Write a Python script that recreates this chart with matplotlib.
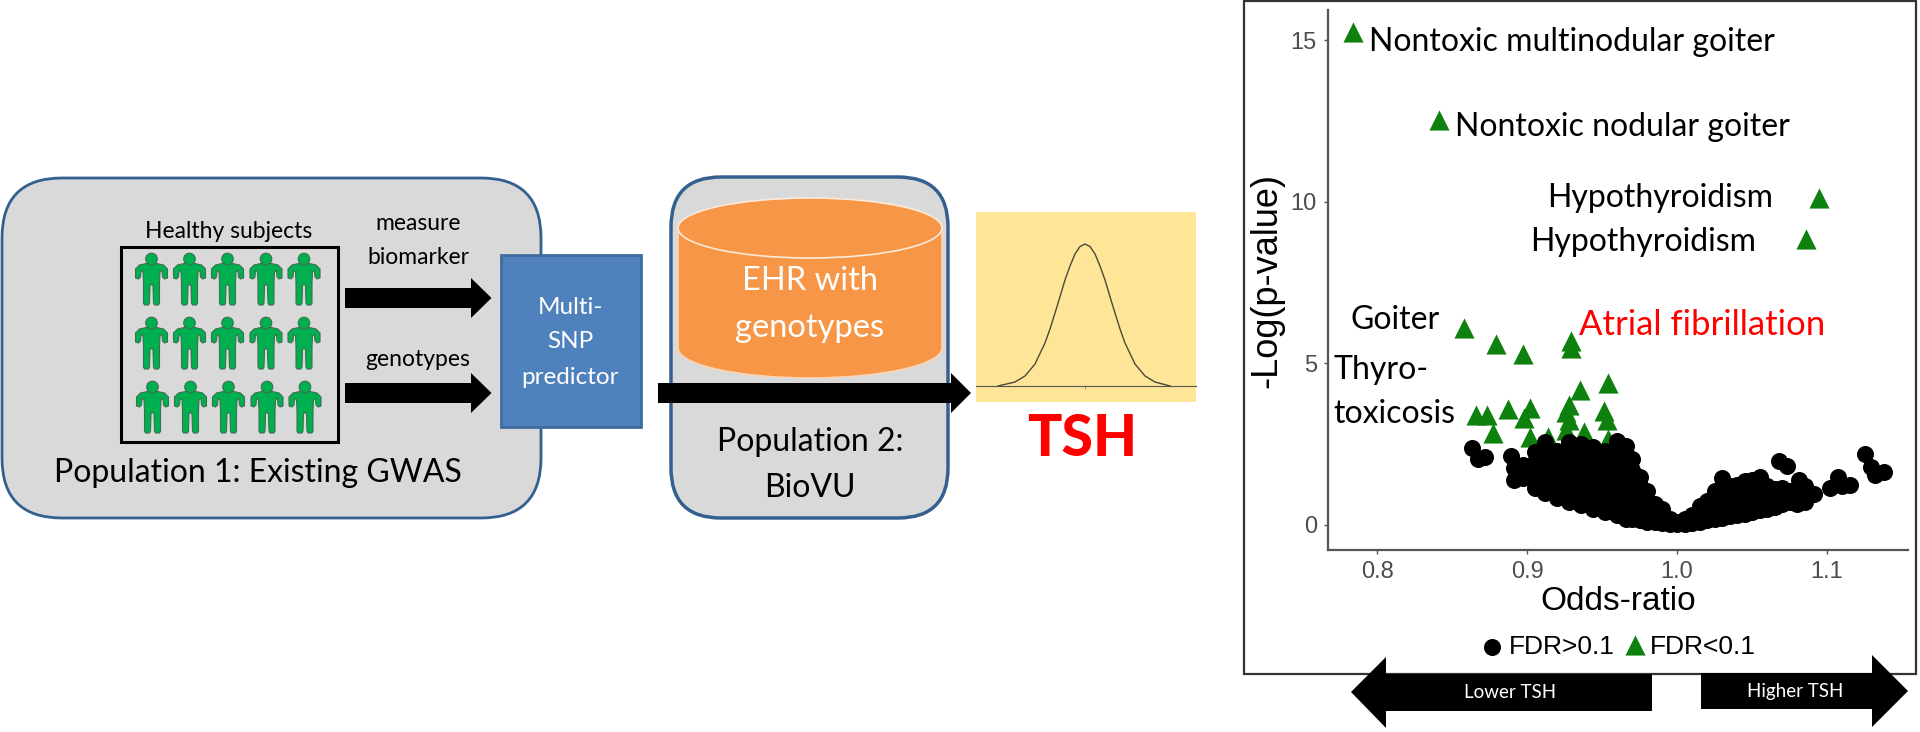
import matplotlib
matplotlib.use("Agg")
import matplotlib.pyplot as plt
from matplotlib.patches import Polygon, Circle, Rectangle, Ellipse, FancyBboxPatch

W, H = 1920, 732
TXT = "Lato"
AX = "Liberation Sans"

# volcano plot, values
black_or = [.863, .867, .872, .889, .891, .891,
            .897, .897,
            .905, .905, .905, .905,
            .912, .912, .912, .912, .912,
            .920, .920, .920, .920, .920,
            .928, .928, .928, .928, .928, .928,
            .936, .936, .936, .936, .936, .936,
            .944, .944, .944, .944, .944, .944,
            .952, .952, .952, .952, .952, .952,
            .960, .960, .960, .960, .960, .960, .960,
            .966, .966, .966, .966, .966, .966, .966,
            .970, .970, .970, .970, .970, .970,
            .975, .975, .975, .975, .975,
            .980, .980, .980, .980,
            .985, .985, .985,
            .990, .990, .990,
            .995, .995,
            1.0, 1.0,
            1.005, 1.005,
            1.01, 1.01,
            1.015, 1.015, 1.015,
            1.02, 1.02, 1.02,
            1.025, 1.025, 1.025, 1.025,
            1.03, 1.03, 1.03, 1.03,
            1.035, 1.035, 1.035, 1.035,
            1.04, 1.04, 1.04, 1.04,
            1.045, 1.045, 1.045, 1.045,
            1.05, 1.05, 1.05, 1.05,
            1.055, 1.055, 1.055, 1.055,
            1.06, 1.06, 1.06,
            1.065, 1.065, 1.065,
            1.07, 1.07, 1.07, 1.068, 1.073,
            1.075, 1.075,
            1.08, 1.08, 1.0815,
            1.085, 1.085, 1.085,
            1.091,
            1.102, 1.107, 1.11, 1.115,
            1.125, 1.129, 1.132, 1.138]
black_logp = [2.37, 2.03, 2.09, 2.14, 1.75, 1.39,
              1.45, 1.85,
              1.15, 1.55, 1.95, 2.25,
              .98, 1.35, 1.8, 2.2, 2.58,
              .85, 1.2, 1.55, 1.95, 2.3,
              .72, 1.1, 1.5, 1.9, 2.3, 2.58,
              .62, 1.0, 1.4, 1.8, 2.2, 2.5,
              .5, .9, 1.3, 1.7, 2.1, 2.4,
              .4, .8, 1.2, 1.6, 2.0, 2.3,
              .3, .7, 1.1, 1.5, 1.9, 2.3, 2.6,
              .2, .6, 1.0, 1.4, 1.8, 2.2, 2.45,
              .18, .5, .9, 1.3, 1.7, 2.05,
              .15, .5, .85, 1.2, 1.5,
              .1, .4, .7, 1.05,
              .08, .35, .65,
              .05, .3, .5,
              .03, .2,
              .02, .1,
              .03, .2,
              .06, .3,
              .1, .4, .6,
              .15, .45, .75,
              .18, .5, .85, 1.05,
              .22, .6, .95, 1.44,
              .27, .65, 1.0, 1.2,
              .3, .7, 1.05, 1.25,
              .35, .7, 1.1, 1.35,
              .4, .75, 1.1, 1.4,
              .45, .8, 1.1, 1.5,
              .5, .85, 1.2,
              .55, .9, 1.1,
              .65, 1.0, 1.15, 1.98, 1.82,
              .7, 1.05,
              .65, .95, 1.39,
              .7, 1.0, 1.2,
              .95,
              1.13, 1.5, 1.2, 1.24,
              2.2, 1.8, 1.55, 1.63]

green_or = [.784, .841, 1.0945, 1.086, .858, .879, .897, .929, .9295,
            .954, .935, .928, .926, .951, .953, .866, .873, .887, .902, .898,
            .877, .902, .928, .926, .938, .914, .954, .927]
green_logp = [15.26, 12.54, 10.12, 8.85, 6.09, 5.6, 5.29, 5.7, 5.47,
              4.39, 4.18, 3.71, 3.5, 3.53, 3.25, 3.4, 3.4, 3.59, 3.62, 3.31,
              2.85, 2.72, 3.25, 2.94, 2.88, 2.72, 2.66, 2.63]

x_ticks = [0.8, 0.9, 1.0, 1.1]
x_tick_labels = ["0.8", "0.9", "1.0", "1.1"]
y_ticks = [0, 5, 10, 15]

# TSH curve: offset from the centre and height above the baseline
tsh_x = [-87, -70, -60, -50, -40, -35, -30, -26, -20, -15, -10, -5, 0,
         5, 10, 15, 20, 26, 30, 35, 40, 50, 60, 70, 85]
tsh_y = [0, 4, 10, 22, 43, 57, 73, 86, 106, 120, 132, 139.5, 142,
         139.5, 132, 120, 106, 86, 73, 57, 43, 22, 10, 4, 0]


def px_axes(fig, left, top, right, bottom):
    return fig.add_axes([left / W, 1 - bottom / H, (right - left) / W, (bottom - top) / H])


def arrow_right(ax, x0, x1, xh, yc, shaft, head):
    ax.add_patch(Polygon([(x0, yc - shaft), (xh, yc - shaft), (xh, yc - head), (x1, yc),
                          (xh, yc + head), (xh, yc + shaft), (x0, yc + shaft)],
                         fc="black", ec="none", zorder=5))


def person(ax, cx, top):
    half = [(0, 31), (1.5, 33), (2, 50), (3, 52), (7, 52), (8, 50), (8, 30), (8.5, 19),
            (10.5, 17), (11, 24), (13, 26), (16, 25), (16, 16), (12, 12), (3, 10)]
    left = [(-a, b) for a, b in half[::-1]]
    pts = [(cx + a, top + b) for a, b in half + left]
    ax.add_patch(Polygon(pts, fc="#00b050", ec="#3f6f4f", lw=0.8, zorder=4))
    ax.add_patch(Circle((cx, top + 6), 5.8, fc="#00b050", ec="#3f6f4f", lw=0.8, zorder=4))


def label(ax, x, y, s, size, color="black", ha="left", **kw):
    ax.text(x, y, s, fontsize=size, color=color, ha=ha, va="center", family=TXT, zorder=6, **kw)


fig = plt.figure(figsize=(W / 100, H / 100), dpi=100)
bg = fig.add_axes([0, 0, 1, 1])
bg.set_xlim(0, W)
bg.set_ylim(H, 0)
bg.axis("off")

# population 1
bg.add_patch(FancyBboxPatch((62, 238), 419, 220, boxstyle="round,pad=60,rounding_size=60",
                            fc="#d9d9d9", ec="#34608f", lw=2))
bg.add_patch(Rectangle((121, 247), 217, 195, fc="none", ec="black", lw=2.2, zorder=3))
for top, shift in [(253, 0), (317, 0), (381, 1)]:
    for cx in [151.5, 189.5, 227.5, 266, 304]:
        person(bg, cx + shift, top)
label(bg, 229, 232, "Healthy subjects", 16.5, ha="center")
label(bg, 418, 223, "measure", 16.5, ha="center")
label(bg, 418, 257, "biomarker", 16.5, ha="center")
label(bg, 418, 360, "genotypes", 16.5, ha="center")
label(bg, 258, 473, "Population 1: Existing GWAS", 23, ha="center")
arrow_right(bg, 345, 491.5, 471, 298, 10, 20)
arrow_right(bg, 345, 491.5, 471, 393, 10, 20)

bg.add_patch(Rectangle((501, 255), 140, 172, fc="#4f81bd", ec="#3f6c9f", lw=2, zorder=3))
for y, s in [(307, "Multi-"), (342, "SNP"), (377, "predictor")]:
    label(bg, 570, y, s, 17.5, color="white", ha="center")

# population 2
bg.add_patch(FancyBboxPatch((721, 227), 177, 241, boxstyle="round,pad=50,rounding_size=50",
                            fc="#d9d9d9", ec="#34608f", lw=2.5))
bg.add_patch(Ellipse((810, 348), 264, 60, fc="#f79646", ec="#fbd5b5", lw=1.2, zorder=3))
bg.add_patch(Rectangle((678, 228), 264, 120, fc="#f79646", ec="none", zorder=3))
bg.plot([678, 678], [228, 348], color="#fbd5b5", lw=1.2, zorder=3)
bg.plot([942, 942], [228, 348], color="#fbd5b5", lw=1.2, zorder=3)
bg.add_patch(Ellipse((810, 228), 264, 60, fc="#f79646", ec="#fde9d9", lw=1.2, zorder=3))
label(bg, 810, 281, "EHR with", 23.5, color="white", ha="center")
label(bg, 810, 328, "genotypes", 23.5, color="white", ha="center")
label(bg, 810, 442, "Population 2:", 23, ha="center")
label(bg, 810, 488, "BioVU", 23, ha="center")
arrow_right(bg, 658, 971, 951, 393, 10, 20)

# TSH distribution
tsh = px_axes(fig, 975.5, 212, 1196, 402)
tsh.set_facecolor("#ffe597")
tsh.plot(tsh_x, tsh_y, color="#4a4a3a", lw=1)
tsh.set_xlim(-109.5, 111)
tsh.set_ylim(-16, 174)
for side in ["top", "left", "right"]:
    tsh.spines[side].set_visible(False)
tsh.spines["bottom"].set_position(("data", 0))
tsh.spines["bottom"].set_color("#555555")
tsh.set_yticks([])
tsh.set_xticks([0])
tsh.set_xticklabels([""])
tsh.tick_params(axis="x", length=2, width=0.6, color="#888888")
label(bg, 1082, 439, "TSH", 41, color="#ff0000", ha="center", fontweight="black")

# volcano plot
bg.add_patch(Rectangle((1244, 1), 672, 673, fc="white", ec="#333333", lw=1.6, zorder=1))
vol = px_axes(fig, 1328, 10, 1908, 550)
vol.patch.set_alpha(0)
vol.scatter(green_or, green_logp, marker="^", s=210, color="#0d800d", lw=0, zorder=2)
vol.scatter(black_or, black_logp, marker="o", s=150, color="black", lw=0, zorder=3)
vol.set_xlim(0.7672, 1.154)
vol.set_ylim(-0.774, 15.94)
vol.set_xticks(x_ticks)
vol.set_xticklabels(x_tick_labels, fontsize=17, family=AX, color="#4d4d4d")
vol.set_yticks(y_ticks)
vol.set_yticklabels([str(v) for v in y_ticks], fontsize=17, family=AX, color="#4d4d4d")
vol.tick_params(length=3, width=1, color="#555555", pad=5)
vol.spines["top"].set_visible(False)
vol.spines["right"].set_visible(False)
vol.spines["left"].set_color("#555555")
vol.spines["bottom"].set_color("#555555")
vol.spines["left"].set_linewidth(1.6)
vol.spines["bottom"].set_linewidth(1.6)

bg.text(1618, 601, "Odds-ratio", fontsize=24, family=AX, ha="center", va="center", zorder=6)
bg.text(1267, 281, "-Log(p-value)", fontsize=26, family=AX, rotation=90, ha="center", va="center", zorder=6)

label(bg, 1369, 42, "Nontoxic multinodular goiter", 23)
label(bg, 1455, 127, "Nontoxic nodular goiter", 23)
label(bg, 1547, 198, "Hypothyroidism", 23)
label(bg, 1530, 242, "Hypothyroidism", 23)
label(bg, 1351, 320, "Goiter", 23)
label(bg, 1579, 325, "Atrial fibrillation", 25, color="#ff0000")
label(bg, 1333, 370, "Thyro-", 23)
label(bg, 1333, 414, "toxicosis", 23)

# legend
bg.scatter([1492], [647], marker="o", s=150, color="black", lw=0, zorder=6)
bg.scatter([1635], [645], marker="^", s=210, color="#0d800d", lw=0, zorder=6)
bg.text(1509, 647, "FDR>0.1", fontsize=19, family=AX, va="center", zorder=6)
bg.text(1650, 647, "FDR<0.1", fontsize=19, family=AX, va="center", zorder=6)

# direction arrows
bg.add_patch(Polygon([(1652, 674), (1386, 674), (1386, 657), (1351, 692), (1386, 728),
                      (1386, 711), (1652, 711)], fc="black", ec="none", zorder=5))
arrow_right(bg, 1701, 1908, 1872, 691, 18, 36)
label(bg, 1510, 693, "Lower TSH", 13.5, color="white", ha="center")
label(bg, 1795, 691, "Higher TSH", 13.5, color="white", ha="center")

fig.savefig("out.png", dpi=100)
